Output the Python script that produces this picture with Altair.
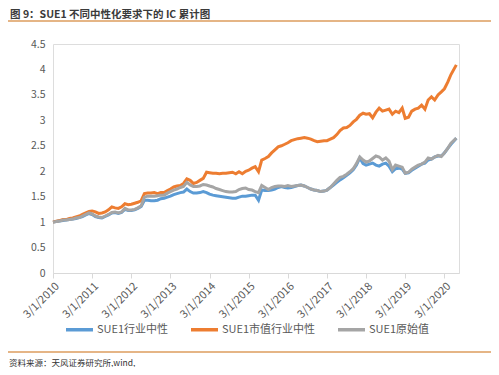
import altair as alt
import pandas as pd

# monthly observation dates (Mar 2010 .. Jun 2020)
dates = pd.date_range("2010-03-01", "2020-06-01", freq="MS").strftime("%Y/%m/%d").tolist()
dates[-1] = "2020/06/20"

series_names = ["SUE1行业中性", "SUE1市值行业中性", "SUE1原始值"]
series_colors = ["#5b9bd5", "#ed7d31", "#a5a5a5"]

ind_neutral = [
    1.00, 1.01, 1.02, 1.03, 1.04, 1.05, 1.06, 1.07, 1.09, 1.11,
    1.14, 1.17, 1.15, 1.11, 1.09, 1.08, 1.11, 1.14, 1.18, 1.19, 1.17, 1.19,
    1.25, 1.23, 1.23, 1.24, 1.27, 1.31, 1.43, 1.43, 1.42, 1.42, 1.43, 1.46,
    1.47, 1.49, 1.51, 1.54, 1.56, 1.58, 1.59, 1.65, 1.60, 1.57, 1.57, 1.58,
    1.60, 1.58, 1.55, 1.53, 1.52, 1.51, 1.50, 1.49, 1.48, 1.47, 1.47, 1.49,
    1.51, 1.51, 1.52, 1.53, 1.53, 1.43, 1.63, 1.62, 1.62, 1.63, 1.65, 1.68,
    1.70, 1.68, 1.67, 1.68, 1.70, 1.72, 1.73, 1.71, 1.68, 1.65, 1.63, 1.62,
    1.60, 1.61, 1.63, 1.68, 1.73, 1.78, 1.83, 1.87, 1.92, 1.97, 2.03, 2.12,
    2.26, 2.15, 2.12, 2.14, 2.16, 2.12, 2.10, 2.14, 2.16, 2.10, 1.99, 2.05,
    2.06, 2.04, 1.96, 1.97, 2.02, 2.06, 2.10, 2.14, 2.16, 2.22, 2.24, 2.28,
    2.30, 2.30, 2.36, 2.45, 2.53, 2.65,
]

mv_ind_neutral = [
    1.00, 1.02, 1.03, 1.05, 1.05, 1.07, 1.08, 1.10, 1.12, 1.15,
    1.18, 1.21, 1.22, 1.20, 1.17, 1.18, 1.20, 1.24, 1.30, 1.28, 1.27, 1.30,
    1.36, 1.34, 1.35, 1.37, 1.39, 1.42, 1.56, 1.57, 1.57, 1.58, 1.56, 1.58,
    1.58, 1.62, 1.65, 1.69, 1.71, 1.72, 1.76, 1.85, 1.82, 1.76, 1.78, 1.82,
    1.86, 1.98, 1.97, 1.96, 1.96, 1.95, 1.96, 1.96, 1.97, 1.98, 1.95, 1.99,
    1.95, 2.00, 2.02, 2.06, 2.09, 1.99, 2.22, 2.25, 2.29, 2.36, 2.42, 2.48,
    2.50, 2.53, 2.56, 2.60, 2.62, 2.64, 2.65, 2.66, 2.65, 2.63, 2.60, 2.58,
    2.59, 2.60, 2.60, 2.63, 2.66, 2.72, 2.80, 2.85, 2.86, 2.90, 2.97, 3.02,
    3.10, 3.14, 3.12, 3.13, 3.05, 3.16, 3.24, 3.18, 3.20, 3.22, 3.12, 3.18,
    3.15, 3.24, 3.04, 3.06, 3.18, 3.22, 3.24, 3.30, 3.22, 3.40, 3.46, 3.40,
    3.50, 3.56, 3.62, 3.75, 3.90, 4.09,
]

raw = [
    1.00, 1.01, 1.02, 1.04, 1.04, 1.05, 1.06, 1.08, 1.09, 1.12,
    1.15, 1.18, 1.16, 1.12, 1.10, 1.09, 1.12, 1.15, 1.19, 1.20, 1.18, 1.20,
    1.27, 1.24, 1.24, 1.25, 1.28, 1.32, 1.49, 1.51, 1.51, 1.51, 1.52, 1.53,
    1.53, 1.57, 1.60, 1.63, 1.65, 1.68, 1.70, 1.78, 1.73, 1.70, 1.70, 1.71,
    1.74, 1.73, 1.71, 1.69, 1.66, 1.64, 1.62, 1.60, 1.59, 1.59, 1.60, 1.64,
    1.66, 1.67, 1.64, 1.63, 1.60, 1.58, 1.72, 1.68, 1.64, 1.68, 1.70, 1.71,
    1.71, 1.70, 1.72, 1.70, 1.71, 1.72, 1.73, 1.71, 1.68, 1.65, 1.63, 1.62,
    1.60, 1.61, 1.63, 1.68, 1.75, 1.82, 1.88, 1.90, 1.94, 1.99, 2.05, 2.15,
    2.28, 2.22, 2.18, 2.20, 2.25, 2.30, 2.28, 2.22, 2.26, 2.20, 2.03, 2.12,
    2.10, 2.08, 1.96, 1.98, 2.04, 2.08, 2.12, 2.14, 2.18, 2.26, 2.24, 2.28,
    2.31, 2.29, 2.36, 2.45, 2.55, 2.65,
]

y_ticks = [0, 0.5, 1, 1.5, 2, 2.5, 3, 3.5, 4, 4.5]
x_tick_years = list(range(2010, 2021))

title_text = "图 9：SUE1 不同中性化要求下的 IC 累计图"
source_text = "资料来源：天风证券研究所,wind,"

rows = []
for name, vals in zip(series_names, [ind_neutral, mv_ind_neutral, raw]):
    for d, v in zip(dates, vals):
        rows.append({"date": d, "value": v, "series": name})
df = pd.DataFrame(rows)

FONT = "Noto Sans CJK SC"

lines = alt.Chart(df).mark_line(strokeWidth=3).encode(
    x=alt.X(
        "date:T",
        scale=alt.Scale(domain=[alt.DateTime(year=2010, month=3, date=1),
                                alt.DateTime(year=2020, month=7, date=15)]),
        axis=alt.Axis(
            values=[alt.DateTime(year=y, month=3, date=1) for y in x_tick_years],
            format="%-m/%-d/%Y", title=None, grid=False, labelAngle=-45,
            labelFontSize=11, labelColor="#595959", labelFont=FONT,
            domainColor="#d9d9d9", tickColor="#d9d9d9", tickSize=5,
            labelOverlap=False, labelFlush=False, labelPadding=2,
        ),
    ),
    y=alt.Y(
        "value:Q",
        scale=alt.Scale(domain=[0, 4.5], nice=False, zero=True),
        axis=alt.Axis(
            values=y_ticks, format="~g", title=None, grid=False, domain=False,
            ticks=False, tickSize=0, labelPadding=8, labelFontSize=10.5,
            labelColor="#595959", labelFont=FONT,
        ),
    ),
    color=alt.Color(
        "series:N",
        sort=series_names,
        scale=alt.Scale(domain=series_names, range=series_colors),
        legend=alt.Legend(
            title=None, orient="none", direction="horizontal",
            legendX=11, legendY=270, symbolType="stroke", symbolSize=729,
            symbolStrokeWidth=3.5, labelFontSize=11, labelColor="#595959",
            labelFont=FONT, columnPadding=15, labelOffset=2, padding=0,
        ),
    ),
)

title = alt.Chart(pd.DataFrame({"t": [title_text]})).mark_text(
    align="left", baseline="middle", fontSize=10.5, fontWeight="bold",
    color="#3a3a3a", font=FONT,
).encode(x=alt.value(-43), y=alt.value(-29), text="t:N")

source = alt.Chart(pd.DataFrame({"t": [source_text]})).mark_text(
    align="left", baseline="middle", fontSize=8.5, color="#333333", font=FONT,
).encode(x=alt.value(-44), y=alt.value(319), text="t:N")

top_rule = alt.Chart(pd.DataFrame({"a": [0]})).mark_rule(
    color="#dd9c5e", strokeWidth=1.5
).encode(x=alt.value(-45), x2=alt.value(438), y=alt.value(-23))

bottom_rule = alt.Chart(pd.DataFrame({"a": [0]})).mark_rule(
    color="#dd9c5e", strokeWidth=1.5
).encode(x=alt.value(-45), x2=alt.value(438), y=alt.value(308))

chart = alt.layer(lines, title, source, top_rule, bottom_rule).properties(
    width=406, height=229,
    autosize=alt.AutoSizeParams(type="none"),
    padding={"left": 45, "top": 36, "right": 32, "bottom": 94},
).configure_view(stroke=None).configure(background="white")

chart.save("out.html", embed_options={"renderer": "svg", "actions": False})
